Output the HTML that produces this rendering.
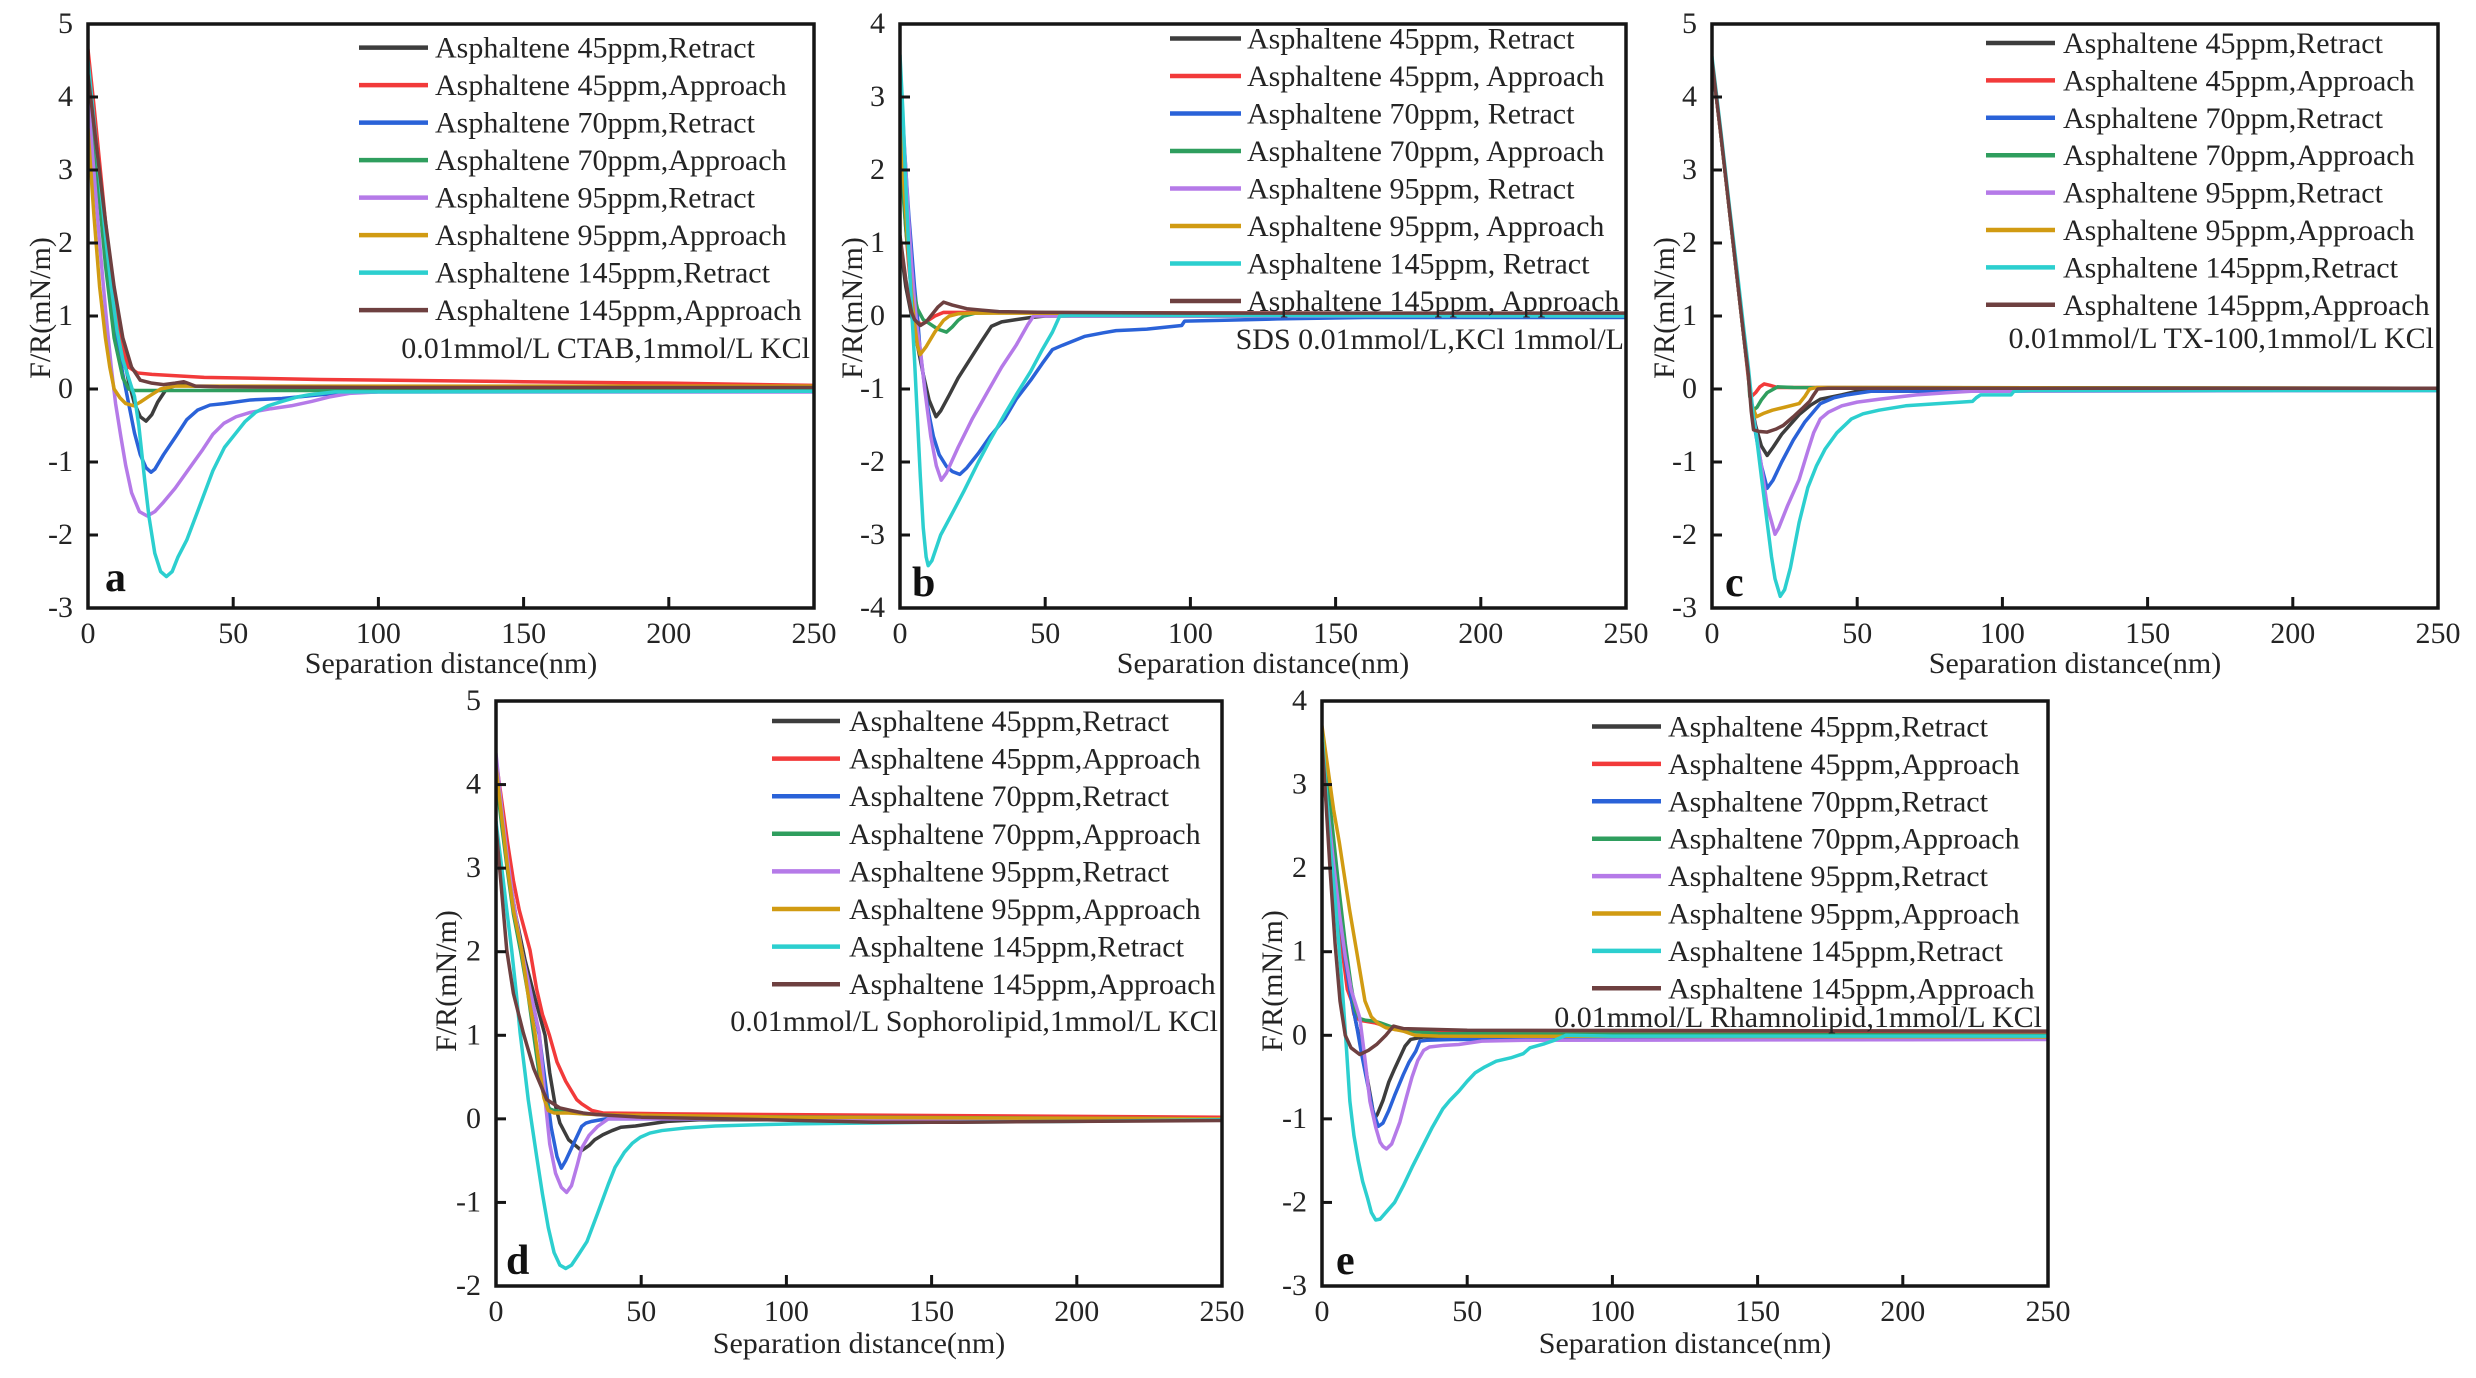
<!DOCTYPE html>
<html><head><meta charset="utf-8"><style>
html,body{margin:0;padding:0;background:#fff;}
svg{display:block;}
text{font-family:"Liberation Serif","Times New Roman",serif;fill:#242424;font-size:30px;}
.fr{fill:none;stroke:#151515;stroke-width:3.5;}
.tk{stroke:#151515;stroke-width:3;}
.s polyline{fill:none;stroke-width:3.5;vector-effect:non-scaling-stroke;stroke-linejoin:round;stroke-linecap:round;}
.lg line{stroke-width:4.5;}
.c1{stroke:#3d3d3d;} .c2{stroke:#f23a3a;} .c3{stroke:#2a62d8;} .c4{stroke:#2f9e5e;}
.c5{stroke:#b57ae8;} .c6{stroke:#d19b12;} .c7{stroke:#2ccfcf;} .c8{stroke:#6e4040;}
.yl{text-anchor:end;} .xl{text-anchor:middle;} .an{text-anchor:end;}
.pl{font-weight:bold;font-size:42px;fill:#111;}
</style></head><body>
<svg width="2476" height="1378" viewBox="0 0 2476 1378" xmlns="http://www.w3.org/2000/svg">
<rect width="2476" height="1378" fill="#fff"/>

<!-- ================= PLOT A ================= -->
<g transform="translate(88,24)">
 <svg width="726" height="584" overflow="hidden">
  <g class="s" transform="translate(0,365) scale(2.904,-73)">
   <polyline class="c1" points="0,4.3 3,3.2 6,2.1 9,1.2 12,0.5 14,0.1 16,-0.2 18,-0.38 20,-0.44 22,-0.35 24,-0.18 27,0 31,0.06 36,0.04 50,0.03 100,0.02 250,0.0"/>
   <polyline class="c2" points="0,4.65 2,3.9 4,3.1 6,2.3 8,1.6 10,1.0 12,0.55 14,0.3 17,0.22 22,0.2 40,0.16 80,0.13 150,0.1 200,0.08 250,0.05"/>
   <polyline class="c3" points="0,4.3 3,3.1 6,1.9 9,0.9 12,0.2 14,-0.2 16,-0.6 18,-0.9 20,-1.08 21.7,-1.14 23,-1.1 26,-0.9 30.4,-0.64 34,-0.42 37.7,-0.29 42,-0.22 46.8,-0.2 56,-0.15 66.8,-0.13 79.6,-0.08 90,-0.05 100,-0.04 250,-0.04"/>
   <polyline class="c4" points="0,4.3 3,3.0 6,1.7 9,0.7 12,0.15 14,0 16,-0.02 250,-0.02"/>
   <polyline class="c5" points="0,4.0 2,3.0 4,2.0 6,1.1 8,0.3 9.5,-0.2 11.3,-0.65 13,-1.05 15,-1.42 17.7,-1.68 20.4,-1.74 23,-1.68 26,-1.55 30,-1.36 35,-1.08 39.5,-0.83 43,-0.62 46.8,-0.47 51,-0.38 56,-0.32 63,-0.27 70,-0.23 77,-0.17 83,-0.11 90,-0.06 100,-0.04 250,-0.04"/>
   <polyline class="c6" points="0,3.56 2,2.4 4,1.4 6,0.7 7.5,0.3 9,0.0 11,-0.12 13,-0.2 15.8,-0.23 18,-0.18 21,-0.1 25,0 30,0.04 250,0.04"/>
   <polyline class="c7" points="0,4.5 2,3.7 4,2.9 6,2.1 8,1.4 10,0.8 12,0.4 14,0.15 16,-0.1 17.5,-0.5 19.5,-1.24 21,-1.75 23,-2.25 25,-2.5 27,-2.57 29,-2.5 31,-2.3 34,-2.07 38,-1.65 43,-1.12 47,-0.8 51,-0.6 54,-0.45 57.7,-0.32 62,-0.23 66.8,-0.17 72,-0.11 76,-0.08 85,-0.04 250,-0.03"/>
   <polyline class="c8" points="0,4.3 3,3.3 6,2.3 9,1.4 12,0.7 15,0.3 18,0.12 22,0.08 26,0.06 30,0.08 33,0.1 37,0.04 45,0.03 100,0.02 250,0.02"/>
  </g>
 </svg>
 <rect class="fr" x="0" y="0" width="726" height="584"/>
 <g class="tk"><line x1="0" y1="73" x2="10" y2="73"/><line x1="0" y1="146" x2="10" y2="146"/><line x1="0" y1="219" x2="10" y2="219"/><line x1="0" y1="292" x2="10" y2="292"/><line x1="0" y1="365" x2="10" y2="365"/><line x1="0" y1="438" x2="10" y2="438"/><line x1="0" y1="511" x2="10" y2="511"/>
 <line x1="145.2" y1="584" x2="145.2" y2="573"/><line x1="290.4" y1="584" x2="290.4" y2="573"/><line x1="435.6" y1="584" x2="435.6" y2="573"/><line x1="580.8" y1="584" x2="580.8" y2="573"/></g>
 <text class="yl" x="-15" y="9">5</text><text class="yl" x="-15" y="82">4</text><text class="yl" x="-15" y="155">3</text><text class="yl" x="-15" y="228">2</text><text class="yl" x="-15" y="301">1</text><text class="yl" x="-15" y="374">0</text><text class="yl" x="-15" y="447">-1</text><text class="yl" x="-15" y="520">-2</text><text class="yl" x="-15" y="593">-3</text>
 <text class="xl" x="0" y="619">0</text><text class="xl" x="145.2" y="619">50</text><text class="xl" x="290.4" y="619">100</text><text class="xl" x="435.6" y="619">150</text><text class="xl" x="580.8" y="619">200</text><text class="xl" x="726" y="619">250</text>
 <text class="xl" x="363" y="649">Separation distance(nm)</text>
 <text class="xl" transform="translate(-38,284) rotate(-90)">F/R(mN/m)</text>
 <text class="pl" x="17" y="567">a</text>
 <g class="lg">
  <line class="c1" x1="271" y1="23.6" x2="340" y2="23.6"/><text x="347" y="33.6">Asphaltene 45ppm,Retract</text>
  <line class="c2" x1="271" y1="61.1" x2="340" y2="61.1"/><text x="347" y="71.1">Asphaltene 45ppm,Approach</text>
  <line class="c3" x1="271" y1="98.6" x2="340" y2="98.6"/><text x="347" y="108.6">Asphaltene 70ppm,Retract</text>
  <line class="c4" x1="271" y1="136.1" x2="340" y2="136.1"/><text x="347" y="146.1">Asphaltene 70ppm,Approach</text>
  <line class="c5" x1="271" y1="173.6" x2="340" y2="173.6"/><text x="347" y="183.6">Asphaltene 95ppm,Retract</text>
  <line class="c6" x1="271" y1="211.1" x2="340" y2="211.1"/><text x="347" y="221.1">Asphaltene 95ppm,Approach</text>
  <line class="c7" x1="271" y1="248.6" x2="340" y2="248.6"/><text x="347" y="258.6">Asphaltene 145ppm,Retract</text>
  <line class="c8" x1="271" y1="286.1" x2="340" y2="286.1"/><text x="347" y="296.1">Asphaltene 145ppm,Approach</text>
 </g>
 <text class="an" x="722" y="334">0.01mmol/L CTAB,1mmol/L KCl</text>
</g>

<!-- ================= PLOT B ================= -->
<g transform="translate(900,24)">
 <svg width="726" height="584" overflow="hidden">
  <g class="s" transform="translate(0,292) scale(2.904,-73)">
   <polyline class="c1" points="0,1.0 1,0.7 2,0.4 3,0.2 4,0.0 5,-0.2 6,-0.4 8,-0.8 10,-1.15 12.4,-1.38 14,-1.3 17,-1.08 20,-0.85 24,-0.6 28,-0.35 31.5,-0.14 35,-0.08 40,-0.05 45,-0.02 50,0 250,0.0"/>
   <polyline class="c2" points="0,2.5 1,1.8 2,1.2 3,0.7 4,0.3 5,0.0 7,-0.12 9,-0.08 12,0 15,0.05 250,0.03"/>
   <polyline class="c3" points="0,3.2 1,2.6 2,2.0 3,1.4 4,0.9 5,0.4 6,0 6.9,-0.46 8.75,-1.05 10,-1.35 11.5,-1.65 13.5,-1.9 16,-2.06 18,-2.13 20.6,-2.17 23,-2.08 27,-1.88 31,-1.65 36,-1.41 40,-1.14 45,-0.88 49,-0.65 52.5,-0.46 56,-0.4 63.5,-0.28 70,-0.23 74.4,-0.2 80,-0.19 85,-0.18 92,-0.15 97,-0.13 98,-0.07 110,-0.06 130,-0.04 160,-0.02 250,-0.02"/>
   <polyline class="c4" points="0,2.2 1,1.7 2,1.2 3,0.8 4,0.45 6,0.1 8,-0.05 10,-0.1 13,-0.18 16,-0.22 18,-0.15 20,-0.06 22,0 26,0.04 40,0.05 80,0.04 250,0.03"/>
   <polyline class="c5" points="0,3.4 1,2.7 2,2.0 3,1.3 4,0.7 5,0.2 6,-0.2 7,-0.46 8.5,-1.0 10.6,-1.65 12.5,-2.05 14.2,-2.25 16,-2.15 20,-1.8 25,-1.4 30,-1.05 35,-0.7 40,-0.4 44,-0.12 46,0 250,0"/>
   <polyline class="c6" points="0,2.6 1,2.0 2,1.4 3,0.8 4,0.3 5,-0.1 6,-0.4 6.9,-0.53 9,-0.42 12,-0.22 15,-0.06 17,0 20,0.03 25,0.04 250,0.02"/>
   <polyline class="c7" points="0,3.57 1,2.8 2,1.8 3,0.9 4,0.1 5,-0.6 6,-1.4 7,-2.2 8,-2.9 9,-3.3 9.7,-3.42 11,-3.35 14,-3.0 17.9,-2.71 22,-2.4 27,-2.0 31,-1.7 36,-1.35 40,-1.08 45,-0.76 49,-0.46 52.5,-0.22 55,0 60,0.01 250,0.0"/>
   <polyline class="c8" points="0,1.1 1,0.8 2,0.5 3,0.25 4,0.05 5,-0.05 7,-0.13 9,-0.08 11,0.02 13,0.12 15,0.19 18,0.15 23,0.1 28,0.08 34,0.06 50,0.05 100,0.04 250,0.04"/>
  </g>
 </svg>
 <rect class="fr" x="0" y="0" width="726" height="584"/>
 <g class="tk"><line x1="0" y1="73" x2="10" y2="73"/><line x1="0" y1="146" x2="10" y2="146"/><line x1="0" y1="219" x2="10" y2="219"/><line x1="0" y1="292" x2="10" y2="292"/><line x1="0" y1="365" x2="10" y2="365"/><line x1="0" y1="438" x2="10" y2="438"/><line x1="0" y1="511" x2="10" y2="511"/>
 <line x1="145.2" y1="584" x2="145.2" y2="573"/><line x1="290.4" y1="584" x2="290.4" y2="573"/><line x1="435.6" y1="584" x2="435.6" y2="573"/><line x1="580.8" y1="584" x2="580.8" y2="573"/></g>
 <text class="yl" x="-15" y="9">4</text><text class="yl" x="-15" y="82">3</text><text class="yl" x="-15" y="155">2</text><text class="yl" x="-15" y="228">1</text><text class="yl" x="-15" y="301">0</text><text class="yl" x="-15" y="374">-1</text><text class="yl" x="-15" y="447">-2</text><text class="yl" x="-15" y="520">-3</text><text class="yl" x="-15" y="593">-4</text>
 <text class="xl" x="0" y="619">0</text><text class="xl" x="145.2" y="619">50</text><text class="xl" x="290.4" y="619">100</text><text class="xl" x="435.6" y="619">150</text><text class="xl" x="580.8" y="619">200</text><text class="xl" x="726" y="619">250</text>
 <text class="xl" x="363" y="649">Separation distance(nm)</text>
 <text class="xl" transform="translate(-38,284) rotate(-90)">F/R(mN/m)</text>
 <text class="pl" x="12" y="572">b</text>
 <g class="lg">
  <line class="c1" x1="270" y1="14.5" x2="341" y2="14.5"/><text x="347" y="24.5">Asphaltene 45ppm, Retract</text>
  <line class="c2" x1="270" y1="52" x2="341" y2="52"/><text x="347" y="62">Asphaltene 45ppm, Approach</text>
  <line class="c3" x1="270" y1="89.5" x2="341" y2="89.5"/><text x="347" y="99.5">Asphaltene 70ppm, Retract</text>
  <line class="c4" x1="270" y1="127" x2="341" y2="127"/><text x="347" y="137">Asphaltene 70ppm, Approach</text>
  <line class="c5" x1="270" y1="164.5" x2="341" y2="164.5"/><text x="347" y="174.5">Asphaltene 95ppm, Retract</text>
  <line class="c6" x1="270" y1="202" x2="341" y2="202"/><text x="347" y="212">Asphaltene 95ppm, Approach</text>
  <line class="c7" x1="270" y1="239.5" x2="341" y2="239.5"/><text x="347" y="249.5">Asphaltene 145ppm, Retract</text>
  <line class="c8" x1="270" y1="277" x2="341" y2="277"/><text x="347" y="287">Asphaltene 145ppm, Approach</text>
 </g>
 <text class="an" x="724" y="325">SDS 0.01mmol/L,KCl 1mmol/L</text>
</g>

<!-- ================= PLOT C ================= -->
<g transform="translate(1712,24)">
 <svg width="726" height="584" overflow="hidden">
  <g class="s" transform="translate(0,365) scale(2.904,-73)">
   <polyline class="c1" points="0,4.5 3,3.5 6,2.45 9,1.4 11,0.7 12.5,0.2 13.5,-0.2 15,-0.5 17,-0.78 19,-0.91 21,-0.8 24,-0.62 26,-0.53 30,-0.35 34,-0.22 37.3,-0.14 44.7,-0.08 50,-0.03 250,-0.01"/>
   <polyline class="c2" points="0,4.5 3,3.5 6,2.45 9,1.4 11,0.7 12.5,0.15 13.4,-0.11 15,-0.05 16.5,0.03 18,0.07 20,0.05 22.6,0.02 250,0.01"/>
   <polyline class="c3" points="0,4.5 3,3.5 6,2.45 9,1.4 11,0.7 12.5,0.2 13.5,-0.2 15,-0.6 17,-1.05 19,-1.36 21,-1.25 24,-1.0 28,-0.7 32,-0.45 37.3,-0.2 42,-0.12 46.5,-0.08 55,-0.03 250,-0.02"/>
   <polyline class="c4" points="0,4.5 3,3.5 6,2.45 9,1.4 11,0.7 12.5,0.2 13,-0.1 14.3,-0.29 15.5,-0.25 17,-0.15 19,-0.05 22.6,0.03 28,0.02 250,0.01"/>
   <polyline class="c5" points="0,4.5 3,3.5 6,2.45 9,1.4 11,0.7 12.5,0.2 13.5,-0.2 15,-0.55 17,-1.05 19,-1.6 21.7,-1.99 23,-1.9 26,-1.6 30,-1.24 33,-0.85 35,-0.6 37.3,-0.41 40,-0.32 44.7,-0.23 50,-0.18 57.5,-0.14 70.4,-0.08 81.4,-0.05 90,-0.03 250,-0.02"/>
   <polyline class="c6" points="0,4.5 3,3.5 6,2.45 9,1.4 11,0.7 12.5,0.2 13.5,-0.2 15.3,-0.38 18,-0.33 20.8,-0.29 25,-0.25 30,-0.2 32,-0.1 33.6,0 36,0.02 250,0.01"/>
   <polyline class="c7" points="0,4.55 3,3.55 6,2.5 9,1.5 11,0.8 12.5,0.3 13.4,-0.05 14.3,-0.4 15.3,-0.65 17,-1.2 19,-1.83 20.5,-2.3 21.7,-2.6 23.5,-2.84 25,-2.75 27,-2.45 30,-1.83 33,-1.35 36,-1.05 39,-0.82 43,-0.6 48,-0.41 52,-0.34 57.5,-0.29 66.7,-0.23 77.8,-0.2 89.7,-0.17 91,-0.12 92.5,-0.08 100,-0.08 103,-0.08 104,-0.03 110,-0.02 250,-0.02"/>
   <polyline class="c8" points="0,4.5 3,3.5 6,2.45 9,1.4 11,0.7 12.5,0.2 13.5,-0.3 14.3,-0.56 16,-0.58 19,-0.59 22,-0.55 24.5,-0.5 28,-0.38 31,-0.27 33.6,-0.17 35,-0.08 36.4,0.0 40,0.01 250,0.01"/>
  </g>
 </svg>
 <rect class="fr" x="0" y="0" width="726" height="584"/>
 <g class="tk"><line x1="0" y1="73" x2="10" y2="73"/><line x1="0" y1="146" x2="10" y2="146"/><line x1="0" y1="219" x2="10" y2="219"/><line x1="0" y1="292" x2="10" y2="292"/><line x1="0" y1="365" x2="10" y2="365"/><line x1="0" y1="438" x2="10" y2="438"/><line x1="0" y1="511" x2="10" y2="511"/>
 <line x1="145.2" y1="584" x2="145.2" y2="573"/><line x1="290.4" y1="584" x2="290.4" y2="573"/><line x1="435.6" y1="584" x2="435.6" y2="573"/><line x1="580.8" y1="584" x2="580.8" y2="573"/></g>
 <text class="yl" x="-15" y="9">5</text><text class="yl" x="-15" y="82">4</text><text class="yl" x="-15" y="155">3</text><text class="yl" x="-15" y="228">2</text><text class="yl" x="-15" y="301">1</text><text class="yl" x="-15" y="374">0</text><text class="yl" x="-15" y="447">-1</text><text class="yl" x="-15" y="520">-2</text><text class="yl" x="-15" y="593">-3</text>
 <text class="xl" x="0" y="619">0</text><text class="xl" x="145.2" y="619">50</text><text class="xl" x="290.4" y="619">100</text><text class="xl" x="435.6" y="619">150</text><text class="xl" x="580.8" y="619">200</text><text class="xl" x="726" y="619">250</text>
 <text class="xl" x="363" y="649">Separation distance(nm)</text>
 <text class="xl" transform="translate(-38,284) rotate(-90)">F/R(mN/m)</text>
 <text class="pl" x="13" y="572">c</text>
 <g class="lg">
  <line class="c1" x1="274" y1="19" x2="343" y2="19"/><text x="351" y="29">Asphaltene 45ppm,Retract</text>
  <line class="c2" x1="274" y1="56.4" x2="343" y2="56.4"/><text x="351" y="66.4">Asphaltene 45ppm,Approach</text>
  <line class="c3" x1="274" y1="93.8" x2="343" y2="93.8"/><text x="351" y="103.8">Asphaltene 70ppm,Retract</text>
  <line class="c4" x1="274" y1="131.2" x2="343" y2="131.2"/><text x="351" y="141.2">Asphaltene 70ppm,Approach</text>
  <line class="c5" x1="274" y1="168.6" x2="343" y2="168.6"/><text x="351" y="178.6">Asphaltene 95ppm,Retract</text>
  <line class="c6" x1="274" y1="206" x2="343" y2="206"/><text x="351" y="216">Asphaltene 95ppm,Approach</text>
  <line class="c7" x1="274" y1="243.4" x2="343" y2="243.4"/><text x="351" y="253.4">Asphaltene 145ppm,Retract</text>
  <line class="c8" x1="274" y1="280.8" x2="343" y2="280.8"/><text x="351" y="290.8">Asphaltene 145ppm,Approach</text>
 </g>
 <text class="an" x="722" y="324">0.01mmol/L TX-100,1mmol/L KCl</text>
</g>

<!-- ================= PLOT D ================= -->
<g transform="translate(496,701)">
 <svg width="726" height="585" overflow="hidden">
  <g class="s" transform="translate(0,417.86) scale(2.904,-83.57)">
   <polyline class="c1" points="0,4.3 2,3.6 4,3.0 7,2.4 10,1.9 13,1.5 16.9,1.0 18.5,0.55 20.3,0.18 22,-0.05 25,-0.25 29.5,-0.38 32,-0.32 34,-0.25 36.8,-0.19 40,-0.14 43,-0.1 48,-0.085 59,-0.03 70,-0.01 250,-0.01"/>
   <polyline class="c2" points="0,4.3 2,3.8 4,3.3 6,2.85 8,2.5 11.7,2.02 14,1.55 16,1.25 18.4,1.0 21,0.68 24,0.45 27.8,0.23 29.5,0.18 33,0.1 36.8,0.07 60,0.06 100,0.05 150,0.04 200,0.03 250,0.02"/>
   <polyline class="c3" points="0,4.3 2,3.6 4,3.0 6,2.5 8.8,2.02 12,1.5 14.9,1.0 16,0.7 17.5,0.3 19,-0.1 21,-0.45 22.5,-0.59 24,-0.5 26,-0.35 29.5,-0.09 31,-0.05 33,-0.03 37.8,0 250,0.0"/>
   <polyline class="c4" points="0,4.1 2,3.5 4,2.95 6,2.45 8.5,2.0 11,1.5 13,1.0 15,0.5 17,0.2 18.5,0.12 20,0.1 25,0.08 30,0.06 50,0.03 250,0.0"/>
   <polyline class="c5" points="0,4.37 2,3.7 4,3.1 6,2.6 8.8,2.02 12,1.5 14.9,1.03 16,0.6 17,0.2 18.5,-0.3 20.5,-0.65 22.5,-0.82 24.3,-0.88 26,-0.8 28,-0.55 29.5,-0.35 32,-0.2 35,-0.09 38.7,0 250,0"/>
   <polyline class="c6" points="0,4.21 2,3.6 4,3.0 6,2.5 8.8,2.02 11,1.5 13.4,1.03 15,0.6 16.5,0.25 18,0.1 20,0.07 25,0.07 35,0.05 100,0.02 250,0.0"/>
   <polyline class="c7" points="0,3.56 2,3.0 3.7,2.5 5.4,2.02 7,1.5 8.3,1.03 10,0.55 11.1,0.23 12.5,-0.1 14,-0.45 16,-0.9 18,-1.3 20,-1.6 22,-1.75 24,-1.79 26,-1.75 28.5,-1.62 31.3,-1.47 35,-1.13 38.7,-0.78 41,-0.58 44.2,-0.4 47,-0.29 49.7,-0.22 53,-0.17 57.1,-0.14 65,-0.11 75.5,-0.085 90,-0.07 103,-0.06 150,-0.04 200,-0.03 250,-0.01"/>
   <polyline class="c8" points="0,3.5 2,2.7 3.7,2.02 6,1.5 9.4,1.03 13,0.6 17.5,0.23 22,0.13 25.8,0.1 30,0.07 35,0.05 50,0.02 80,0.0 130,-0.04 160,-0.04 200,-0.03 250,-0.02"/>
  </g>
 </svg>
 <rect class="fr" x="0" y="0" width="726" height="585"/>
 <g class="tk"><line x1="0" y1="83.57" x2="10" y2="83.57"/><line x1="0" y1="167.14" x2="10" y2="167.14"/><line x1="0" y1="250.71" x2="10" y2="250.71"/><line x1="0" y1="334.29" x2="10" y2="334.29"/><line x1="0" y1="417.86" x2="10" y2="417.86"/><line x1="0" y1="501.43" x2="10" y2="501.43"/>
 <line x1="145.2" y1="585" x2="145.2" y2="574"/><line x1="290.4" y1="585" x2="290.4" y2="574"/><line x1="435.6" y1="585" x2="435.6" y2="574"/><line x1="580.8" y1="585" x2="580.8" y2="574"/></g>
 <text class="yl" x="-15" y="9">5</text><text class="yl" x="-15" y="92.6">4</text><text class="yl" x="-15" y="176.1">3</text><text class="yl" x="-15" y="259.7">2</text><text class="yl" x="-15" y="343.3">1</text><text class="yl" x="-15" y="426.9">0</text><text class="yl" x="-15" y="510.4">-1</text><text class="yl" x="-15" y="594">-2</text>
 <text class="xl" x="0" y="620">0</text><text class="xl" x="145.2" y="620">50</text><text class="xl" x="290.4" y="620">100</text><text class="xl" x="435.6" y="620">150</text><text class="xl" x="580.8" y="620">200</text><text class="xl" x="726" y="620">250</text>
 <text class="xl" x="363" y="652">Separation distance(nm)</text>
 <text class="xl" transform="translate(-40,280) rotate(-90)">F/R(mN/m)</text>
 <text class="pl" x="10" y="573">d</text>
 <g class="lg">
  <line class="c1" x1="276" y1="20" x2="344" y2="20"/><text x="353" y="30">Asphaltene 45ppm,Retract</text>
  <line class="c2" x1="276" y1="57.6" x2="344" y2="57.6"/><text x="353" y="67.6">Asphaltene 45ppm,Approach</text>
  <line class="c3" x1="276" y1="95.2" x2="344" y2="95.2"/><text x="353" y="105.2">Asphaltene 70ppm,Retract</text>
  <line class="c4" x1="276" y1="132.8" x2="344" y2="132.8"/><text x="353" y="142.8">Asphaltene 70ppm,Approach</text>
  <line class="c5" x1="276" y1="170.4" x2="344" y2="170.4"/><text x="353" y="180.4">Asphaltene 95ppm,Retract</text>
  <line class="c6" x1="276" y1="208" x2="344" y2="208"/><text x="353" y="218">Asphaltene 95ppm,Approach</text>
  <line class="c7" x1="276" y1="245.6" x2="344" y2="245.6"/><text x="353" y="255.6">Asphaltene 145ppm,Retract</text>
  <line class="c8" x1="276" y1="283.2" x2="344" y2="283.2"/><text x="353" y="293.2">Asphaltene 145ppm,Approach</text>
 </g>
 <text class="an" x="722" y="330">0.01mmol/L Sophorolipid,1mmol/L KCl</text>
</g>

<!-- ================= PLOT E ================= -->
<g transform="translate(1322,701)">
 <svg width="726" height="585" overflow="hidden">
  <g class="s" transform="translate(0,334.29) scale(2.904,-83.57)">
   <polyline class="c1" points="0,3.3 2,2.7 4,2.05 6,1.45 8,0.9 10,0.45 12,0.1 14.2,-0.19 15.5,-0.5 17,-0.79 18,-1.0 19,-0.95 21,-0.78 23,-0.56 25,-0.4 27,-0.25 28.6,-0.13 30.5,-0.05 35,-0.02 250,-0.02"/>
   <polyline class="c2" points="0,3.3 1,2.9 2.8,2.5 4,2.1 5.5,1.5 7.4,0.9 8.7,0.55 10.2,0.41 11,0.25 13,0.18 18,0.15 20,0.13 25,0.07 30,0.05 50,0.03 250,0.02"/>
   <polyline class="c3" points="0,3.3 2,2.7 4,2.05 6,1.45 8,0.9 10,0.45 12,0.1 13.5,-0.2 15.5,-0.55 17.5,-0.9 19.4,-1.09 21,-1.05 23,-0.9 25,-0.72 28,-0.47 30,-0.32 32.3,-0.19 33.7,-0.07 36,-0.06 45,-0.05 250,-0.04"/>
   <polyline class="c4" points="0,3.6 2,3.0 4,2.35 6,1.7 8,1.1 10,0.6 11.5,0.3 13,0.2 15,0.18 18,0.17 20,0.15 24,0.1 30,0.05 40,0.02 250,0.0"/>
   <polyline class="c5" points="0,3.3 2,2.7 4,2.05 6,1.45 8,0.95 10,0.55 13,0.21 14.5,-0.2 16.5,-0.79 18.5,-1.1 20,-1.28 21,-1.33 22.2,-1.36 24,-1.3 26.8,-1.04 29,-0.75 31,-0.5 33,-0.3 35,-0.18 37,-0.14 42,-0.12 47.1,-0.11 55,-0.07 70,-0.06 250,-0.05"/>
   <polyline class="c6" points="0,3.7 2,3.2 4,2.7 6,2.3 7.3,2.0 9.5,1.5 11.9,1.01 14.8,0.41 17,0.22 19.4,0.14 22,0.09 28,0.05 32,0.0 40,-0.01 250,-0.02"/>
   <polyline class="c7" points="0,3.62 1.5,2.9 3,2.2 4.6,1.6 6,1.0 7.3,0.41 8.5,-0.2 9.6,-0.79 11,-1.2 12.5,-1.5 14,-1.75 15.7,-1.95 17,-2.12 18.5,-2.21 20,-2.2 22,-2.12 25,-2.0 28,-1.8 31,-1.58 34.2,-1.36 38,-1.1 41.6,-0.88 44,-0.78 47.1,-0.67 50,-0.55 52.7,-0.45 56,-0.38 60,-0.31 65,-0.27 69.3,-0.22 71.6,-0.15 76.7,-0.1 80,-0.06 84,0 100,-0.01 250,-0.01"/>
   <polyline class="c8" points="0,3.5 1,3.0 2.75,2.0 4.5,1.1 6.2,0.41 8,0.0 10,-0.15 13,-0.23 16,-0.18 18.8,-0.11 22,0.0 24.6,0.11 28,0.08 50,0.06 250,0.05"/>
  </g>
 </svg>
 <rect class="fr" x="0" y="0" width="726" height="585"/>
 <g class="tk"><line x1="0" y1="83.57" x2="10" y2="83.57"/><line x1="0" y1="167.14" x2="10" y2="167.14"/><line x1="0" y1="250.71" x2="10" y2="250.71"/><line x1="0" y1="334.29" x2="10" y2="334.29"/><line x1="0" y1="417.86" x2="10" y2="417.86"/><line x1="0" y1="501.43" x2="10" y2="501.43"/>
 <line x1="145.2" y1="585" x2="145.2" y2="574"/><line x1="290.4" y1="585" x2="290.4" y2="574"/><line x1="435.6" y1="585" x2="435.6" y2="574"/><line x1="580.8" y1="585" x2="580.8" y2="574"/></g>
 <text class="yl" x="-15" y="9">4</text><text class="yl" x="-15" y="92.6">3</text><text class="yl" x="-15" y="176.1">2</text><text class="yl" x="-15" y="259.7">1</text><text class="yl" x="-15" y="343.3">0</text><text class="yl" x="-15" y="426.9">-1</text><text class="yl" x="-15" y="510.4">-2</text><text class="yl" x="-15" y="594">-3</text>
 <text class="xl" x="0" y="620">0</text><text class="xl" x="145.2" y="620">50</text><text class="xl" x="290.4" y="620">100</text><text class="xl" x="435.6" y="620">150</text><text class="xl" x="580.8" y="620">200</text><text class="xl" x="726" y="620">250</text>
 <text class="xl" x="363" y="652">Separation distance(nm)</text>
 <text class="xl" transform="translate(-40,280) rotate(-90)">F/R(mN/m)</text>
 <text class="pl" x="14" y="573">e</text>
 <g class="lg">
  <line class="c1" x1="270" y1="25.5" x2="339" y2="25.5"/><text x="346" y="35.5">Asphaltene 45ppm,Retract</text>
  <line class="c2" x1="270" y1="62.9" x2="339" y2="62.9"/><text x="346" y="72.9">Asphaltene 45ppm,Approach</text>
  <line class="c3" x1="270" y1="100.3" x2="339" y2="100.3"/><text x="346" y="110.3">Asphaltene 70ppm,Retract</text>
  <line class="c4" x1="270" y1="137.7" x2="339" y2="137.7"/><text x="346" y="147.7">Asphaltene 70ppm,Approach</text>
  <line class="c5" x1="270" y1="175.1" x2="339" y2="175.1"/><text x="346" y="185.1">Asphaltene 95ppm,Retract</text>
  <line class="c6" x1="270" y1="212.5" x2="339" y2="212.5"/><text x="346" y="222.5">Asphaltene 95ppm,Approach</text>
  <line class="c7" x1="270" y1="249.9" x2="339" y2="249.9"/><text x="346" y="259.9">Asphaltene 145ppm,Retract</text>
  <line class="c8" x1="270" y1="287.3" x2="339" y2="287.3"/><text x="346" y="297.3">Asphaltene 145ppm,Approach</text>
 </g>
 <text class="an" x="720" y="326">0.01mmol/L Rhamnolipid,1mmol/L KCl</text>
</g>
</svg>
</body></html>
